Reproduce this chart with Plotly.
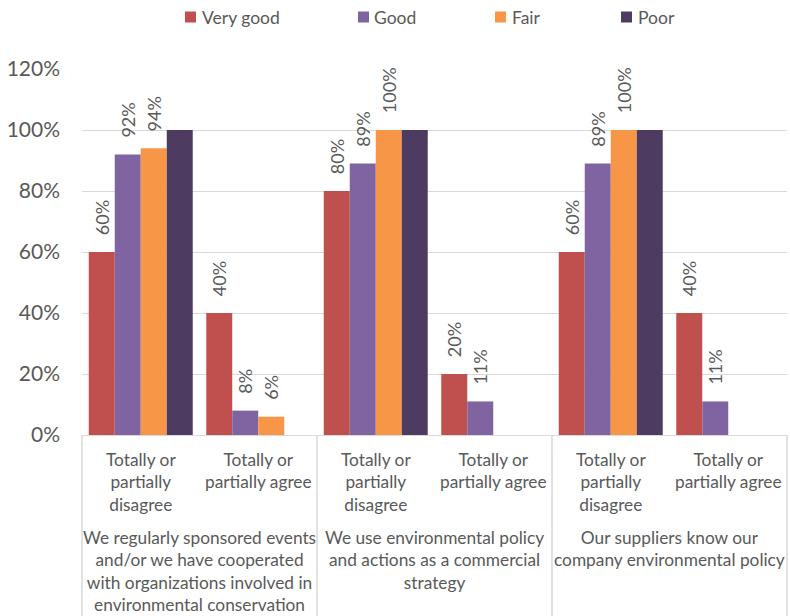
import plotly.graph_objects as go

# Survey statements (outer category level) and response groups (inner level)
statements = [
    "We regularly sponsored events<br>and/or we have cooperated<br>with organizations involved in<br>environmental conservation",
    "We use environmental policy<br>and actions as a commercial<br>strategy",
    "Our suppliers know our<br>company environmental policy",
]
responses = ["Totally or<br>partially<br>disagree", "Totally or<br>partially agree"]

series_names = ["Very good", "Good", "Fair", "Poor"]
series_colors = ["#C0504D", "#8064A2", "#F79646", "#4D3B62"]
show_labels = [True, True, True, False]

# Share (%) of each rating per statement / response group
very_good = [60, 40, 80, 20, 60, 40]
good = [92, 8, 89, 11, 89, 11]
fair = [94, 6, 100, 0, 100, 0]
poor = [100, 0, 100, 0, 100, 0]
series_values = [very_good, good, fair, poor]

y_ticks = [0, 20, 40, 60, 80, 100, 120]
y_ticktext = [f"{v}%" for v in y_ticks]

FONT = "Lato"
GREY = "#595959"
LINE = "#D9D9D9"
W, H = 790, 616
M_L, M_R, M_T, M_B = 82, 3, 69, 181

outer = [s for s in statements for _ in responses]
inner = [r for _ in statements for r in responses]
n_cat = len(inner)

fig = go.Figure()
for name, color, vals, lab in zip(series_names, series_colors, series_values, show_labels):
    texts = [("\u00a0\u00a0\u00a0" + f"{v}%") if (lab and v > 0) else "" for v in vals]
    fig.add_trace(go.Bar(
        x=[outer, inner], y=vals, name=name,
        marker=dict(color=color, line=dict(width=0)),
        text=texts, textposition="outside", textangle=-90,
        textfont=dict(family=FONT, size=18, color=GREY),
        constraintext="none", cliponaxis=False,
        showlegend=False,
    ))

fig.update_layout(
    width=W, height=H,
    margin=dict(l=M_L, r=M_R, t=M_T, b=M_B),
    paper_bgcolor="white", plot_bgcolor="white",
    barmode="group", bargap=0.115, bargroupgap=0,
    font=dict(family=FONT, color=GREY),
)
fig.update_xaxes(showticklabels=False, showgrid=False, showline=True,
                 linecolor=LINE, linewidth=1, ticks="", showdividers=False)
fig.update_yaxes(range=[0, 120], tickvals=y_ticks, ticktext=y_ticktext,
                 showgrid=True, gridcolor=LINE, gridwidth=1,
                 zeroline=False, showline=False,
                 tickfont=dict(family=FONT, size=21, color=GREY),
                 ticklabelstandoff=21)

# Legend row across the top: colour swatch followed by series name
legend_swatch_x = [185, 358, 495, 621]
legend_text_x = [200, 372, 510, 636]
LEG_Y = 17
for name, color, sx, tx in zip(series_names, series_colors, legend_swatch_x, legend_text_x):
    fig.add_shape(type="rect", xref="paper", yref="paper",
                  x0=(sx - M_L) / (W - M_L - M_R), x1=(sx + 11 - M_L) / (W - M_L - M_R),
                  y0=(H - M_B - (LEG_Y + 5.5)) / (H - M_T - M_B),
                  y1=(H - M_B - (LEG_Y - 5.5)) / (H - M_T - M_B),
                  fillcolor=color, line=dict(width=0))
    fig.add_annotation(text=name, xref="paper", yref="paper",
                       x=(tx - M_L) / (W - M_L - M_R),
                       y=(H - M_B - LEG_Y) / (H - M_T - M_B),
                       xanchor="left", yanchor="middle", showarrow=False,
                       font=dict(family=FONT, size=17.5, color=GREY))

# Category labels beneath the axis, one per response group and per statement
plot_h = H - M_T - M_B
for i, txt in enumerate(inner):
    fig.add_annotation(
        text=txt, xref="paper", yref="paper",
        x=(i + 0.5) / n_cat, y=-12 / plot_h, yanchor="top", xanchor="center",
        showarrow=False, align="center",
        font=dict(family=FONT, size=17.3, color=GREY),
    )
n_grp = len(statements)
for g, txt in enumerate(statements):
    fig.add_annotation(
        text=txt, xref="paper", yref="paper",
        x=(g + 0.5) / n_grp, y=-90 / plot_h, yanchor="top", xanchor="center",
        showarrow=False, align="center",
        font=dict(family=FONT, size=17.3, color=GREY),
    )
# Group dividers running from the axis to the bottom edge
for g in range(n_grp + 1):
    fig.add_shape(type="line", xref="paper", yref="paper",
                  x0=g / n_grp, x1=g / n_grp, y0=0, y1=-M_B / plot_h,
                  line=dict(color=LINE, width=1.5))

fig.write_html("out.html")
